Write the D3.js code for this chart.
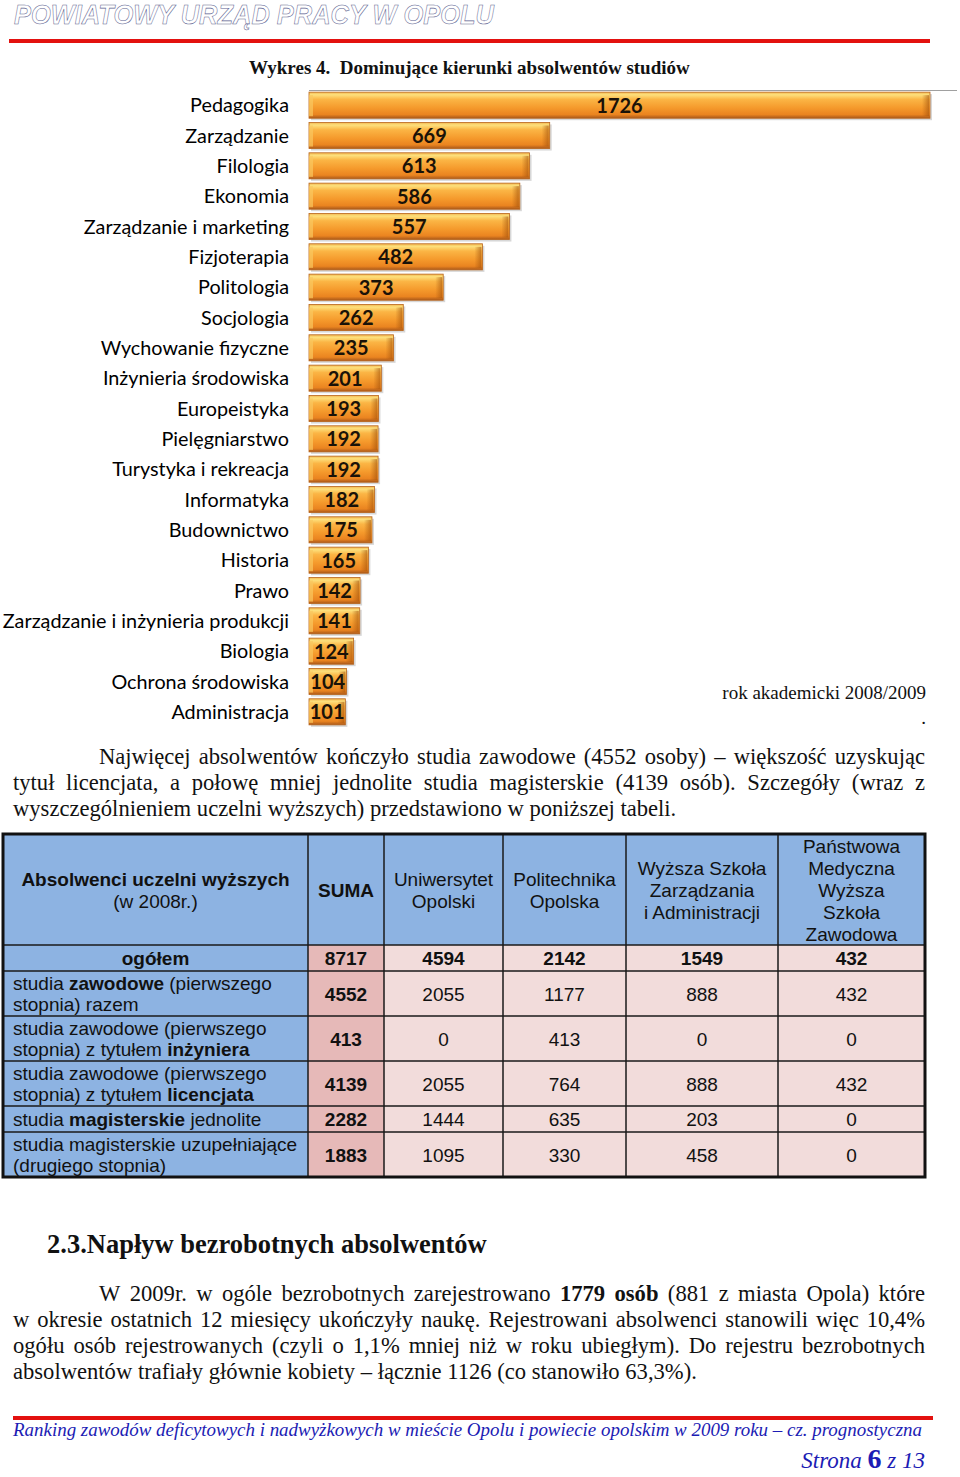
<!DOCTYPE html>
<html><head><meta charset="utf-8">
<script src="https://cdn.jsdelivr.net/npm/d3@7"></script>
<style>html,body{margin:0;padding:0;background:#fff;}svg{display:block;}</style>
</head><body>
<script>
// ---------- DATA ----------
const categories = ["Pedagogika","Zarządzanie","Filologia","Ekonomia","Zarządzanie i marketing","Fizjoterapia","Politologia","Socjologia","Wychowanie fizyczne","Inżynieria środowiska","Europeistyka","Pielęgniarstwo","Turystyka i rekreacja","Informatyka","Budownictwo","Historia","Prawo","Zarządzanie i inżynieria produkcji","Biologia","Ochrona środowiska","Administracja"];
const values = [1726,669,613,586,557,482,373,262,235,201,193,192,192,182,175,165,142,141,124,104,101];
const chartTitle = "Wykres 4.  Dominujące kierunki absolwentów studiów";
const chartNote = "rok akademicki 2008/2009";

const tableHeadFirst = [["Absolwenci uczelni wyższych",1],["(w 2008r.)",0]];
const tableColumns = [["SUMA"],["Uniwersytet","Opolski"],["Politechnika","Opolska"],["Wyższa Szkoła","Zarządzania","i Administracji"],["Państwowa","Medyczna","Wyższa","Szkoła","Zawodowa"]];
const tableRowLabels = [
  [[["ogółem",1]]],
  [[["studia ",0],["zawodowe",1],[" (pierwszego",0]],[["stopnia) razem",0]]],
  [[["studia zawodowe (pierwszego",0]],[["stopnia) z tytułem ",0],["inżyniera",1]]],
  [[["studia zawodowe (pierwszego",0]],[["stopnia) z tytułem ",0],["licencjata",1]]],
  [[["studia ",0],["magisterskie",1],[" jednolite",0]]],
  [[["studia magisterskie uzupełniające",0]],[["(drugiego stopnia)",0]]]
];
const tableValues = [
  [8717,4594,2142,1549,432],
  [4552,2055,1177,888,432],
  [413,0,413,0,0],
  [4139,2055,764,888,432],
  [2282,1444,635,203,0],
  [1883,1095,330,458,0]
];

const para1 = [
  [["Najwięcej absolwentów kończyło studia zawodowe (4552 osoby) – większość uzyskując",0]],
  [["tytuł licencjata, a połowę mniej jednolite studia magisterskie (4139 osób). Szczegóły (wraz z",0]],
  [["wyszczególnieniem uczelni wyższych) przedstawiono w poniższej tabeli.",0]]
];
const heading = "2.3.Napływ bezrobotnych absolwentów";
const para2 = [
  [["W 2009r. w ogóle bezrobotnych zarejestrowano ",0],["1779 osób",1],[" (881 z miasta Opola) które",0]],
  [["w okresie ostatnich 12 miesięcy ukończyły naukę. Rejestrowani absolwenci stanowili więc 10,4%",0]],
  [["ogółu osób rejestrowanych (czyli o 1,1% mniej niż w roku ubiegłym). Do rejestru bezrobotnych",0]],
  [["absolwentów trafiały głównie kobiety – łącznie 1126 (co stanowiło 63,3%).",0]]
];
const headerText = "POWIATOWY URZĄD PRACY W OPOLU";
const footerText = "Ranking zawodów deficytowych i nadwyżkowych w mieście Opolu i powiecie opolskim w 2009 roku – cz. prognostyczna";
const pageNo = ["Strona ","6"," z 13"];

// ---------- SVG ----------
const W = 960, H = 1477;
const svg = d3.select("body").append("svg").attr("width", W).attr("height", H);
const serif = "'Liberation Serif','Times New Roman',serif";
const sans = "'Liberation Sans',Arial,sans-serif";
const cal = "Lato,'Open Sans',sans-serif";

// header (outlined lettering)
svg.append("text").attr("x", 14).attr("y", 24)
  .attr("font-family", sans).attr("font-weight", "bold").attr("font-style", "italic")
  .attr("font-size", 28).attr("fill", "none").attr("stroke", "#5c5f90").attr("stroke-width", 0.55)
  .attr("textLength", 480).attr("lengthAdjust", "spacingAndGlyphs").text(headerText);
svg.append("rect").attr("x", 9).attr("y", 39).attr("width", 921).attr("height", 4).attr("fill", "#e3110f");

// chart title
svg.append("text").attr("x", 249).attr("y", 74).attr("font-family", serif).attr("font-weight", "bold")
  .attr("font-size", 19).attr("fill", "#111").style("white-space", "pre").text(chartTitle);

// bar chart
const x = d3.scaleLinear().domain([0, 1726]).range([309, 930]);
const y = d3.scaleBand().domain(categories).range([90, 727]).paddingInner(0.14).paddingOuter(0.07);
const defs = svg.append("defs");
const g1 = defs.append("linearGradient").attr("id", "barg").attr("x1", 0).attr("y1", 0).attr("x2", 0).attr("y2", 1);
[[0,"#f2b650"],[0.1,"#fde07c"],[0.28,"#fbb545"],[0.6,"#f59a2c"],[0.86,"#ea8420"],[1,"#a9581a"]]
  .forEach(([o,c]) => g1.append("stop").attr("offset", o).attr("stop-color", c));
const g2 = defs.append("linearGradient").attr("id", "bare").attr("x1", 0).attr("y1", 0).attr("x2", 1).attr("y2", 0);
[[0,"rgba(160,80,10,0)"],[1,"rgba(160,80,10,0.6)"]].forEach(([o,c]) => g2.append("stop").attr("offset", o).attr("stop-color", c));

svg.append("line").attr("x1", 309).attr("x2", 957).attr("y1", 90.5).attr("y2", 90.5).attr("stroke", "#a0a0a0").attr("stroke-width", 1);

const bars = svg.append("g").selectAll("g").data(categories).join("g");
bars.append("rect").attr("x", x(0) + 2).attr("y", d => y(d) + 2)
  .attr("width", (d,i) => x(values[i]) - x(0)).attr("height", y.bandwidth()).attr("fill", "#bdbdbd").attr("opacity", 0.6);
bars.append("rect").attr("x", x(0)).attr("y", d => y(d))
  .attr("width", (d,i) => x(values[i]) - x(0)).attr("height", y.bandwidth())
  .attr("fill", "url(#barg)").attr("stroke", "#b8651c").attr("stroke-width", 0.8);
bars.append("rect").attr("x", (d,i) => x(values[i]) - 8).attr("y", d => y(d) + 3)
  .attr("width", 7).attr("height", y.bandwidth() - 5).attr("fill", "url(#bare)");
bars.append("rect").attr("x", x(0)).attr("y", d => y(d) + 3)
  .attr("width", 4).attr("height", y.bandwidth() - 5).attr("fill", "#f9c760").attr("opacity", 0.7);
bars.append("text").attr("x", (d,i) => (x(values[i]) + x(0)) / 2).attr("y", d => y(d) + y.bandwidth()/2 + 7.5)
  .attr("text-anchor", "middle").attr("font-family", cal).attr("font-weight", "bold").attr("font-size", 20)
  .attr("fill", "#1a1208").text((d,i) => values[i]);

// category axis labels
svg.append("g").selectAll("text").data(categories).join("text")
  .attr("x", 289).attr("y", d => y(d) + y.bandwidth()/2 + 7).attr("text-anchor", "end")
  .attr("font-family", cal).attr("font-size", 19.8).attr("fill", "#000").text(d => d);

svg.append("text").attr("x", 926).attr("y", 699).attr("text-anchor", "end").attr("font-family", serif)
  .attr("font-size", 19).attr("fill", "#111").text(chartNote);
svg.append("text").attr("x", 926).attr("y", 724).attr("text-anchor", "end").attr("font-family", serif)
  .attr("font-size", 19).attr("fill", "#111").text(".");

// ---------- justified paragraph helper ----------
function measure(t, bold, size, fam) {
  const tmp = svg.append("text").attr("font-family", fam).attr("font-size", size)
    .attr("font-weight", bold ? "bold" : "normal").style("white-space", "pre").text(t);
  const w = tmp.node().getComputedTextLength(); tmp.remove(); return w;
}
function paragraph(lines, firstX, restX, right, y0, lh, size) {
  const spaceW = measure(" ", 0, size, serif);
  lines.forEach((segs, li) => {
    const words = [];
    segs.forEach(([t, b]) => {
      const parts = t.split(" ");
      parts.forEach((p, pi) => {
        if (pi > 0) words.push(null);
        if (p.length) words.push({t: p, b});
      });
    });
    const groups = []; let cur = [];
    words.forEach(w => { if (w === null) { if (cur.length) groups.push(cur); cur = []; } else cur.push(w); });
    if (cur.length) groups.push(cur);
    groups.forEach(gr => gr.forEach(w => w.w = measure(w.t, w.b, size, serif)));
    const x0 = li === 0 ? firstX : restX;
    const total = d3.sum(groups, gr => d3.sum(gr, w => w.w));
    const last = li === lines.length - 1;
    const gap = last ? spaceW : (right - x0 - total) / (groups.length - 1);
    let xx = x0;
    groups.forEach(gr => {
      gr.forEach(w => {
        svg.append("text").attr("x", xx).attr("y", y0 + li * lh).attr("font-family", serif)
          .attr("font-size", size).attr("font-weight", w.b ? "bold" : "normal").attr("fill", "#111").text(w.t);
        xx += w.w;
      });
      xx += gap;
    });
  });
}
paragraph(para1, 99, 13, 925, 764, 26, 22.6);

// ---------- TABLE ----------
const colEdges = [3, 308, 384, 503, 626, 778, 925];
const rowEdges = [834, 945, 971, 1016, 1061, 1106, 1132, 1177];
const TF = 19;
const tg = svg.append("g");
tg.append("rect").attr("x", colEdges[0]).attr("y", rowEdges[0]).attr("width", colEdges[6]-colEdges[0])
  .attr("height", rowEdges[1]-rowEdges[0]).attr("fill", "#8db3e2");
tableValues.forEach((row, ri) => {
  const ry = rowEdges[ri+1], rh = rowEdges[ri+2] - rowEdges[ri+1];
  tg.append("rect").attr("x", colEdges[0]).attr("y", ry).attr("width", colEdges[1]-colEdges[0]).attr("height", rh).attr("fill", "#8db3e2");
  row.forEach((v, ci) => {
    tg.append("rect").attr("x", colEdges[ci+1]).attr("y", ry).attr("width", colEdges[ci+2]-colEdges[ci+1]).attr("height", rh)
      .attr("fill", ci === 0 ? "#e6b9b8" : "#f2dcdb");
    tg.append("text").attr("x", (colEdges[ci+1]+colEdges[ci+2])/2).attr("y", ry + rh/2 + 7)
      .attr("text-anchor", "middle").attr("font-family", sans).attr("font-size", TF)
      .attr("font-weight", (ci === 0 || ri === 0) ? "bold" : "normal").attr("fill", "#111").text(v);
  });
  const lines = tableRowLabels[ri];
  lines.forEach((segs, li) => {
    const t = tg.append("text").attr("font-family", sans).attr("font-size", TF).attr("fill", "#111")
      .attr("y", ry + rh/2 + 7 + (li - (lines.length-1)/2) * 21.5).style("white-space", "pre");
    if (ri === 0) t.attr("x", (colEdges[0]+colEdges[1])/2).attr("text-anchor", "middle");
    else t.attr("x", 13);
    segs.forEach(([s, b]) => t.append("tspan").attr("font-weight", b ? "bold" : "normal").text(s));
  });
});
const hc = (rowEdges[0]+rowEdges[1])/2;
tableHeadFirst.forEach(([s, b], li) => {
  tg.append("text").attr("x", (colEdges[0]+colEdges[1])/2).attr("y", hc + 7 + (li - 0.5) * 22)
    .attr("text-anchor", "middle").attr("font-family", sans).attr("font-size", TF)
    .attr("font-weight", b ? "bold" : "normal").attr("fill", "#111").text(s);
});
tableColumns.forEach((lines, ci) => {
  lines.forEach((s, li) => {
    tg.append("text").attr("x", (colEdges[ci+1]+colEdges[ci+2])/2).attr("y", hc + 7 + (li - (lines.length-1)/2) * 22)
      .attr("text-anchor", "middle").attr("font-family", sans).attr("font-size", TF)
      .attr("font-weight", ci === 0 ? "bold" : "normal").attr("fill", "#111").text(s);
  });
});
rowEdges.slice(1, -1).forEach(ry => tg.append("line").attr("x1", colEdges[0]).attr("x2", colEdges[6])
  .attr("y1", ry).attr("y2", ry).attr("stroke", "#1a1a1a").attr("stroke-width", 1.5));
colEdges.slice(1, -1).forEach(cx => tg.append("line").attr("x1", cx).attr("x2", cx)
  .attr("y1", rowEdges[0]).attr("y2", rowEdges[7]).attr("stroke", "#1a1a1a").attr("stroke-width", 1.5));
tg.append("rect").attr("x", colEdges[0]).attr("y", rowEdges[0]).attr("width", colEdges[6]-colEdges[0])
  .attr("height", rowEdges[7]-rowEdges[0]).attr("fill", "none").attr("stroke", "#111").attr("stroke-width", 3);

// heading & paragraph 2
svg.append("text").attr("x", 47).attr("y", 1253).attr("font-family", serif).attr("font-weight", "bold")
  .attr("font-size", 26.5).attr("fill", "#111").text(heading);
paragraph(para2, 99, 13, 925, 1301, 26, 22.6);

// footer
svg.append("rect").attr("x", 13).attr("y", 1416).attr("width", 920).attr("height", 4).attr("fill", "#e3110f");
svg.append("text").attr("x", 13).attr("y", 1436).attr("font-family", serif).attr("font-style", "italic")
  .attr("font-size", 18).attr("fill", "#1c1cb4").attr("textLength", 909).attr("lengthAdjust", "spacingAndGlyphs").text(footerText);
const pn = svg.append("text").attr("x", 925).attr("y", 1468).attr("text-anchor", "end").attr("font-family", serif)
  .attr("font-style", "italic").attr("font-size", 23).attr("fill", "#1c1cb4").style("white-space", "pre");
pn.append("tspan").text(pageNo[0]);
pn.append("tspan").attr("font-weight", "bold").attr("font-style", "normal").attr("font-size", 28).text(pageNo[1]);
pn.append("tspan").text(pageNo[2]);
</script>
</body></html>
